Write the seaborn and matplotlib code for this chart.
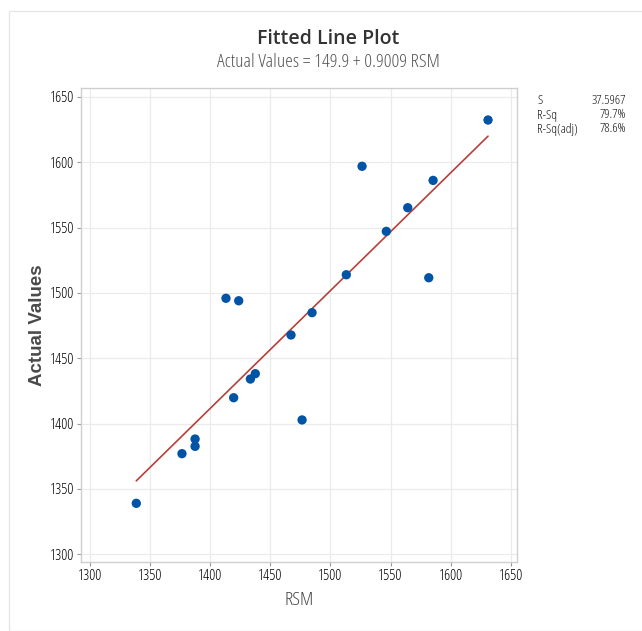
import matplotlib
matplotlib.use("Agg")
import matplotlib.pyplot as plt
import seaborn as sns
import pandas as pd
from matplotlib.patches import Rectangle

rsm = [1338.5, 1376.5, 1387.4, 1387.4, 1413.1, 1423.7, 1419.5, 1433.4, 1437.5, 1467.2,
       1476.4, 1484.7, 1513.2, 1526.3, 1546.5, 1564.3, 1581.8, 1585.4, 1631.1]
actual = [1339.0, 1377.0, 1388.2, 1382.6, 1495.9, 1494.0, 1419.8, 1434.1, 1438.2, 1467.8,
          1402.8, 1484.9, 1513.9, 1596.9, 1547.1, 1565.2, 1511.6, 1586.1, 1632.3]
xticks = [1300, 1350, 1400, 1450, 1500, 1550, 1600, 1650]
yticks = [1300, 1350, 1400, 1450, 1500, 1550, 1600, 1650]
stat_names = ["S", "R-Sq", "R-Sq(adj)"]
stat_values = ["37.5967", "79.7%", "78.6%"]

df = pd.DataFrame({"RSM": rsm, "Actual Values": actual})

sns.set_theme(style="white")
plt.rcParams['font.family'] = ['Open Sans', 'DejaVu Sans']
plt.rcParams['font.stretch'] = 'condensed'

W, H = 642, 631
fig = plt.figure(figsize=(W / 100, H / 100), dpi=100)
ax = fig.add_axes([81 / W, 1 - 562 / H, (517 - 81) / W, (562 - 88) / H])

fig.patches.append(Rectangle((9 / W, 0), 1, 1 - 11 / H, transform=fig.transFigure,
                             fill=False, edgecolor="#e6e6e6", linewidth=1.0))

sns.regplot(data=df, x="RSM", y="Actual Values", ax=ax, ci=None,
            scatter_kws=dict(s=45, color="#0054a6", edgecolor="none", alpha=1, zorder=3),
            line_kws=dict(color="#b5403a", linewidth=1.2, zorder=2))

ax.set_xlim(1292.5, 1655.2)
ax.set_ylim(1294.1, 1656.8)
ax.set_xticks(xticks)
ax.set_yticks(yticks)
ax.grid(True, color="#ebebeb", linewidth=0.9)
ax.set_axisbelow(True)
for s in ax.spines.values():
    s.set_color("#cfcfcf")
    s.set_linewidth(1.0)
ax.tick_params(axis="both", which="both", direction="out", length=3, width=0.8,
               color="#999999", labelsize=11, labelcolor="#000000", pad=2,
               bottom=True, left=True)
for lab in ax.get_xticklabels() + ax.get_yticklabels():
    lab.set_stretch("condensed")

ax.set_xlabel("RSM", fontsize=14, color="#444444", labelpad=5, stretch="condensed")
ax.set_ylabel("Actual Values", fontsize=13.5, color="#4a4a4a", fontweight="bold",
              family=["Liberation Sans", "DejaVu Sans"], stretch="normal", labelpad=3)

fig.text(328 / W, 1 - 39 / H, "Fitted Line Plot", ha="center", va="center",
         fontsize=14, fontweight="semibold", color="#333333")
fig.text(328 / W, 1 - 62 / H, "Actual Values = 149.9 + 0.9009 RSM", ha="center",
         va="center", fontsize=14, color="#555555", stretch="condensed")

for i, (n, v) in enumerate(zip(stat_names, stat_values)):
    y = 1 - (101 + i * 14) / H
    fig.text(537 / W, y, n, ha="left", va="center", fontsize=9.5, color="#111111",
             stretch="condensed")
    fig.text(626 / W, y, v, ha="right", va="center", fontsize=9.5, color="#111111",
             stretch="condensed")

fig.savefig("out.png", dpi=100)
